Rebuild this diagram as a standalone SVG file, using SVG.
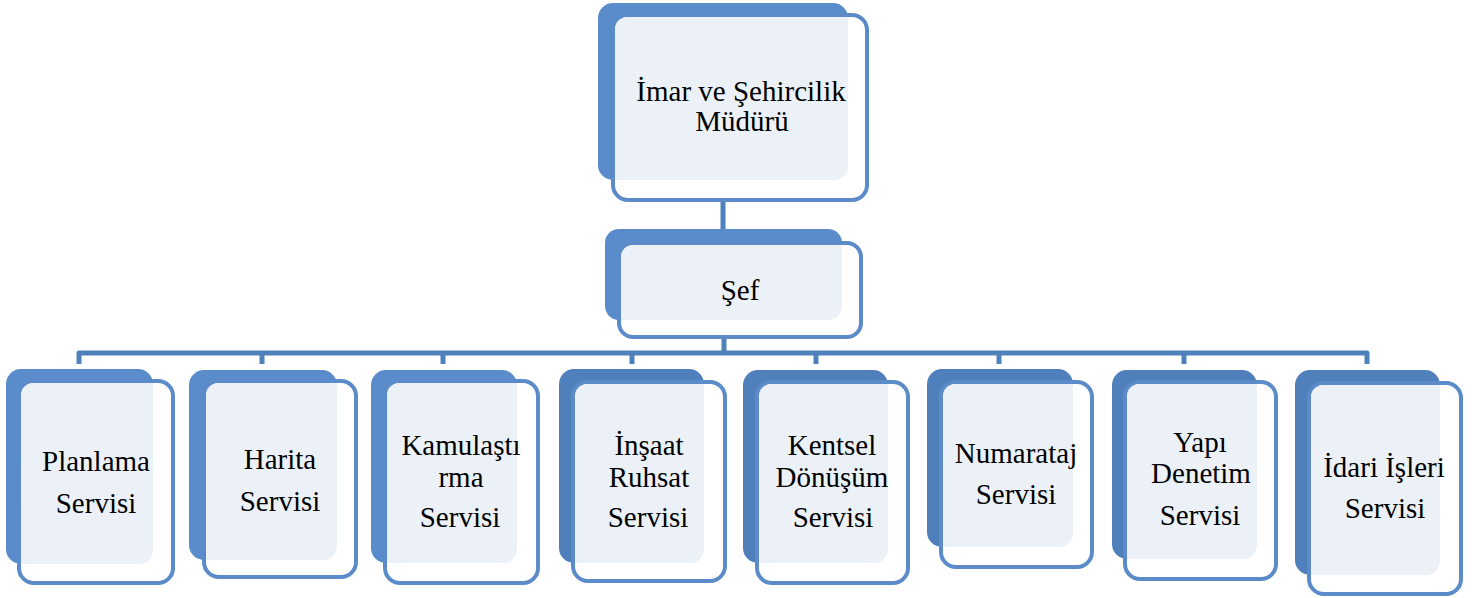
<svg xmlns="http://www.w3.org/2000/svg" width="1472" height="598" viewBox="0 0 1472 598">
<style>
.bgA{fill:#5a8ccb}
.bgB{fill:#4f80bc}
.frame{fill:#ffffff;stroke:#5b8cc9;stroke-width:4}
.lite{fill:#ecf1f8}
.t{font-family:"Liberation Serif","Times New Roman",serif;font-size:29px;fill:#000;text-anchor:middle}
.con{fill:none;stroke:#4f81bd;stroke-width:5;stroke-linejoin:round}
</style>
<rect width="1472" height="598" fill="#ffffff"/>
<g id="connectors">
<path class="con" d="M723,195 V229"/>
<path class="con" d="M724,330 V353"/>
<path class="con" d="M79,364 V353 H1367 V364"/>
<path class="con" d="M262,353 V364 M443,353 V364 M632,353 V364 M816,353 V364 M999,353 V364 M1184,353 V364"/>
</g>
<g id="node-mudur">
<rect class="bgA" x="598" y="3" width="250" height="177" rx="15"/>
<rect class="frame" x="613" y="15" width="254" height="185" rx="15"/>
<path class="lite" d="M627,17 H848 V166 A14,14 0 0 1 834,180 H615 V29 A12,12 0 0 1 627,17 Z"/>
<text class="t" x="741" y="101">İmar ve Şehircilik</text>
<text class="t" x="742" y="131">Müdürü</text>
</g>
<g id="node-sef">
<rect class="bgA" x="605" y="229" width="237" height="91" rx="14"/>
<rect class="frame" x="619" y="243" width="242" height="94" rx="14"/>
<path class="lite" d="M633,245 H842 V306 A14,14 0 0 1 828,320 H621 V257 A12,12 0 0 1 633,245 Z"/>
<text class="t" x="740" y="300">Şef</text>
</g>
<g id="node-planlama">
<rect class="bgA" x="6" y="369" width="147" height="195" rx="15"/>
<rect class="frame" x="19" y="381" width="154" height="202" rx="15"/>
<path class="lite" d="M33,383 H153 V550 A14,14 0 0 1 139,564 H21 V395 A12,12 0 0 1 33,383 Z"/>
<text class="t" x="96" y="471">Planlama</text>
<text class="t" x="96" y="513">Servisi</text>
</g>
<g id="node-harita">
<rect class="bgA" x="189" y="370" width="148" height="190" rx="15"/>
<rect class="frame" x="204" y="381" width="152" height="196" rx="15"/>
<path class="lite" d="M218,383 H337 V546 A14,14 0 0 1 323,560 H206 V395 A12,12 0 0 1 218,383 Z"/>
<text class="t" x="280" y="469">Harita</text>
<text class="t" x="280" y="511">Servisi</text>
</g>
<g id="node-kamulastirma">
<rect class="bgA" x="371" y="370" width="146" height="193" rx="15"/>
<rect class="frame" x="385" y="381" width="153" height="202" rx="15"/>
<path class="lite" d="M399,383 H517 V549 A14,14 0 0 1 503,563 H387 V395 A12,12 0 0 1 399,383 Z"/>
<text class="t" x="461" y="455">Kamulaştı</text>
<text class="t" x="461" y="487">rma</text>
<text class="t" x="460" y="527">Servisi</text>
</g>
<g id="node-insaat">
<rect class="bgB" x="559" y="369" width="145" height="194" rx="15"/>
<rect class="frame" x="573" y="382" width="152" height="199" rx="15"/>
<path class="lite" d="M587,384 H704 V549 A14,14 0 0 1 690,563 H575 V396 A12,12 0 0 1 587,384 Z"/>
<text class="t" x="649" y="455">İnşaat</text>
<text class="t" x="649" y="487">Ruhsat</text>
<text class="t" x="648" y="527">Servisi</text>
</g>
<g id="node-kentsel">
<rect class="bgB" x="743" y="370" width="145" height="193" rx="15"/>
<rect class="frame" x="757" y="382" width="151" height="201" rx="15"/>
<path class="lite" d="M771,384 H888 V549 A14,14 0 0 1 874,563 H759 V396 A12,12 0 0 1 771,384 Z"/>
<text class="t" x="832" y="455">Kentsel</text>
<text class="t" x="832" y="487">Dönüşüm</text>
<text class="t" x="833" y="527">Servisi</text>
</g>
<g id="node-numarataj">
<rect class="bgB" x="927" y="369" width="146" height="178" rx="15"/>
<rect class="frame" x="941" y="382" width="151" height="185" rx="15"/>
<path class="lite" d="M955,384 H1073 V533 A14,14 0 0 1 1059,547 H943 V396 A12,12 0 0 1 955,384 Z"/>
<text class="t" x="1016" y="463">Numarataj</text>
<text class="t" x="1016" y="504">Servisi</text>
</g>
<g id="node-yapi">
<rect class="bgB" x="1112" y="370" width="145" height="189" rx="15"/>
<rect class="frame" x="1125" y="382" width="151" height="197" rx="15"/>
<path class="lite" d="M1139,384 H1257 V545 A14,14 0 0 1 1243,559 H1127 V396 A12,12 0 0 1 1139,384 Z"/>
<text class="t" x="1200" y="452">Yapı</text>
<text class="t" x="1201" y="483">Denetim</text>
<text class="t" x="1200" y="525">Servisi</text>
</g>
<g id="node-idari">
<rect class="bgB" x="1295" y="370" width="145" height="205" rx="15"/>
<rect class="frame" x="1309" y="383" width="152" height="211" rx="15"/>
<path class="lite" d="M1323,385 H1440 V561 A14,14 0 0 1 1426,575 H1311 V397 A12,12 0 0 1 1323,385 Z"/>
<text class="t" x="1384" y="477">İdari İşleri</text>
<text class="t" x="1385" y="518">Servisi</text>
</g>
</svg>
